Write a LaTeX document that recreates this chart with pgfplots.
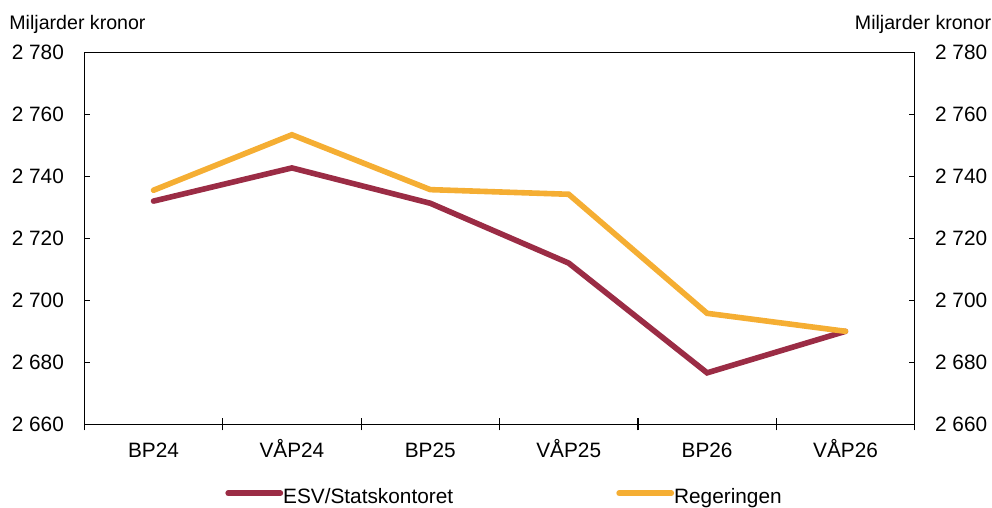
\documentclass[border=0pt]{standalone}
\usepackage{fontspec}
\setmainfont{Liberation Sans}
\usepackage{pgfplots}
\pgfplotsset{compat=1.18}
\definecolor{esv}{RGB}{155,44,69}
\definecolor{reg}{RGB}{245,174,51}

\pgfplotsset{
  chartbase/.style={
    scale only axis,
    width=415.2pt, height=186pt,
    xmin=-0.5, xmax=5.5,
    ymin=2660, ymax=2780,
    ytick={2660,2680,...,2780},
    /pgf/number format/assume math mode=true,
    /pgf/number format/1000 sep={\ },
    tick align=inside,
    major tick length=3pt,
    axis line style={line width=0.6pt},
    every tick/.style={black, line width=0.6pt},
    yticklabel style={inner sep=0pt},
    yticklabel shift=10pt,
  },
}

\begin{document}
\fontsize{10.4}{12.5}\selectfont
\begin{tikzpicture}
\begin{axis}[
    chartbase,
    name=ax,
    ytick pos=left,
    xtick pos=bottom,
    xtick={0,...,5},
    xticklabels={BP24,VÅP24,BP25,VÅP25,BP26,VÅP26},
    major x tick style={draw=none},
    minor xtick={-0.5,0.5,...,5.5},
    minor x tick style={black, line width=0.6pt, yshift=-3pt},
    minor tick length=6pt,
    xticklabel style={anchor=base, inner sep=0pt},
    xticklabel shift=16.5pt,
    legend columns=2,
    legend style={
        draw=none, fill=none,
        at={(axis description cs:0.1694,-0.1962)},
        anchor=west,
        inner sep=0pt,
        nodes={inner xsep=0pt, inner ysep=0pt, yshift=-2pt},
        /tikz/every even column/.append style={column sep=81.6pt},
    },
    legend image code/.code={
        \draw[#1, line cap=round] (1.4pt,0pt) -- (26.1pt,0pt);
        \path (0pt,0pt) -- (25.5pt,0pt);
    },
]
\addplot[esv, line width=2.8pt, line cap=round] coordinates {
    (0,2732.0) (1,2742.7) (2,2731.3) (3,2712.0) (4,2676.6) (5,2690.0)
};
\addlegendentry{ESV/Statskontoret}
\addplot[reg, line width=2.8pt, line cap=round] coordinates {
    (0,2735.5) (1,2753.4) (2,2735.7) (3,2734.2) (4,2695.8) (5,2690.0)
};
\addlegendentry{Regeringen}
\end{axis}
\begin{axis}[
    chartbase,
    axis x line=none,
    axis y line*=right,
    yticklabel style={anchor=west},
]
\end{axis}
\node[anchor=base west, inner sep=0pt, font=\fontsize{9.8}{11.8}\selectfont] at ([xshift=-37.65pt, yshift=11.15pt]ax.north west) {Miljarder kronor};
\node[anchor=base east, inner sep=0pt, font=\fontsize{9.8}{11.8}\selectfont] at ([xshift=38.4pt, yshift=11.15pt]ax.north east) {Miljarder kronor};
\pgfresetboundingbox
\path ([xshift=-42.15pt, yshift=-41.35pt]ax.south west) rectangle ([xshift=38.65pt, yshift=26.15pt]ax.north east);
\end{tikzpicture}
\end{document}
